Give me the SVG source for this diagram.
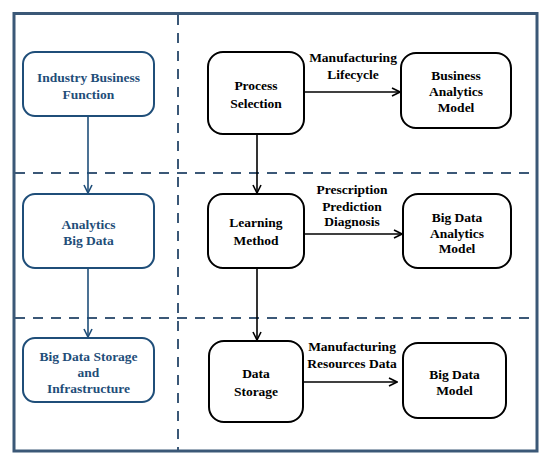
<svg xmlns="http://www.w3.org/2000/svg" width="550" height="463" viewBox="0 0 550 463">
<style>
.frame{fill:none;stroke:#3b5877;stroke-width:3}
.dash{fill:none;stroke:#3b5877;stroke-width:2;stroke-dasharray:10 8}
.bnode{fill:#fff;stroke:#1f4e79;stroke-width:2}
.knode{fill:#fff;stroke:#000;stroke-width:2}
text{font-family:'Liberation Serif','DejaVu Serif',serif;font-weight:bold;font-size:13.5px;text-anchor:middle}
.bt{fill:#1f4e79}
.kt{fill:#000}
.bl{fill:none;stroke:#1f4e79;stroke-width:1.6}
.kl{fill:none;stroke:#000;stroke-width:1.6}
</style>
<defs>
<marker id="ab" viewBox="0 0 10 10" refX="9" refY="5" markerWidth="10" markerHeight="10" markerUnits="userSpaceOnUse" orient="auto">
<path d="M1,1 L9,5 L1,9" fill="none" stroke="#1f4e79" stroke-width="1.6"/>
</marker>
<marker id="ak" viewBox="0 0 10 10" refX="9" refY="5" markerWidth="10" markerHeight="10" markerUnits="userSpaceOnUse" orient="auto">
<path d="M1,1 L9,5 L1,9" fill="none" stroke="#000" stroke-width="1.6"/>
</marker>
</defs>
<rect width="550" height="463" fill="#fff"/>
<g id="frame">
<rect class="frame" x="14" y="13.5" width="523" height="437.5"/>
<line class="dash" x1="178" y1="15" x2="178" y2="450"/>
<line class="dash" x1="15" y1="173" x2="536" y2="173"/>
<line class="dash" x1="15" y1="318" x2="536" y2="318"/>
</g>
<g id="connectors" font-family="Liberation Serif, serif">
<line class="bl" x1="88" y1="116" x2="88" y2="193" marker-end="url(#ab)"/>
<line class="bl" x1="88" y1="268" x2="88" y2="337" marker-end="url(#ab)"/>
<line class="kl" x1="257" y1="134" x2="257" y2="193" marker-end="url(#ak)"/>
<line class="kl" x1="257" y1="268" x2="257" y2="340" marker-end="url(#ak)"/>
<line class="kl" x1="304" y1="92" x2="400" y2="92" marker-end="url(#ak)"/>
<line class="kl" x1="304" y1="234" x2="402" y2="234" marker-end="url(#ak)"/>
<line class="kl" x1="303" y1="382" x2="397" y2="382" marker-end="url(#ak)"/>
<text class="kt" x="353" y="62">Manufacturing</text>
<text class="kt" x="353" y="79">Lifecycle</text>
<text class="kt" x="352" y="194">Prescription</text>
<text class="kt" x="352" y="210.5">Prediction</text>
<text class="kt" x="352" y="226">Diagnosis</text>
<text class="kt" x="352" y="351">Manufacturing</text>
<text class="kt" x="352" y="368">Resources Data</text>
</g>
<g id="industry">
<rect class="bnode" x="23" y="52" width="131" height="64" rx="12"/>
<text class="bt" x="88.5" y="82">Industry Business</text>
<text class="bt" x="88.5" y="99">Function</text>
</g>
<g id="analytics">
<rect class="bnode" x="23" y="194" width="131" height="74" rx="12"/>
<text class="bt" x="88.5" y="229">Analytics</text>
<text class="bt" x="88.5" y="245">Big Data</text>
</g>
<g id="storage-infra">
<rect class="bnode" x="23" y="338" width="131" height="64" rx="12"/>
<text class="bt" x="88.5" y="361">Big Data Storage</text>
<text class="bt" x="88.5" y="377">and</text>
<text class="bt" x="88.5" y="393">Infrastructure</text>
</g>
<g id="process">
<rect class="knode" x="208" y="52" width="96" height="82" rx="15"/>
<text class="kt" x="256" y="90">Process</text>
<text class="kt" x="256" y="108">Selection</text>
</g>
<g id="learning">
<rect class="knode" x="208" y="194" width="96" height="74" rx="15"/>
<text class="kt" x="256" y="227">Learning</text>
<text class="kt" x="256" y="245">Method</text>
</g>
<g id="datastorage">
<rect class="knode" x="209" y="341" width="94" height="81" rx="15"/>
<text class="kt" x="256" y="378">Data</text>
<text class="kt" x="256" y="396">Storage</text>
</g>
<g id="bam">
<rect class="knode" x="401" y="53" width="110" height="75" rx="15"/>
<text class="kt" x="456" y="80">Business</text>
<text class="kt" x="456" y="96">Analytics</text>
<text class="kt" x="456" y="112">Model</text>
</g>
<g id="bdam">
<rect class="knode" x="403" y="194" width="108" height="74" rx="15"/>
<text class="kt" x="457" y="222">Big Data</text>
<text class="kt" x="457" y="238">Analytics</text>
<text class="kt" x="457" y="253">Model</text>
</g>
<g id="bdm">
<rect class="knode" x="403" y="343" width="103" height="75" rx="15"/>
<text class="kt" x="454.5" y="379">Big Data</text>
<text class="kt" x="454.5" y="395">Model</text>
</g>
</svg>
